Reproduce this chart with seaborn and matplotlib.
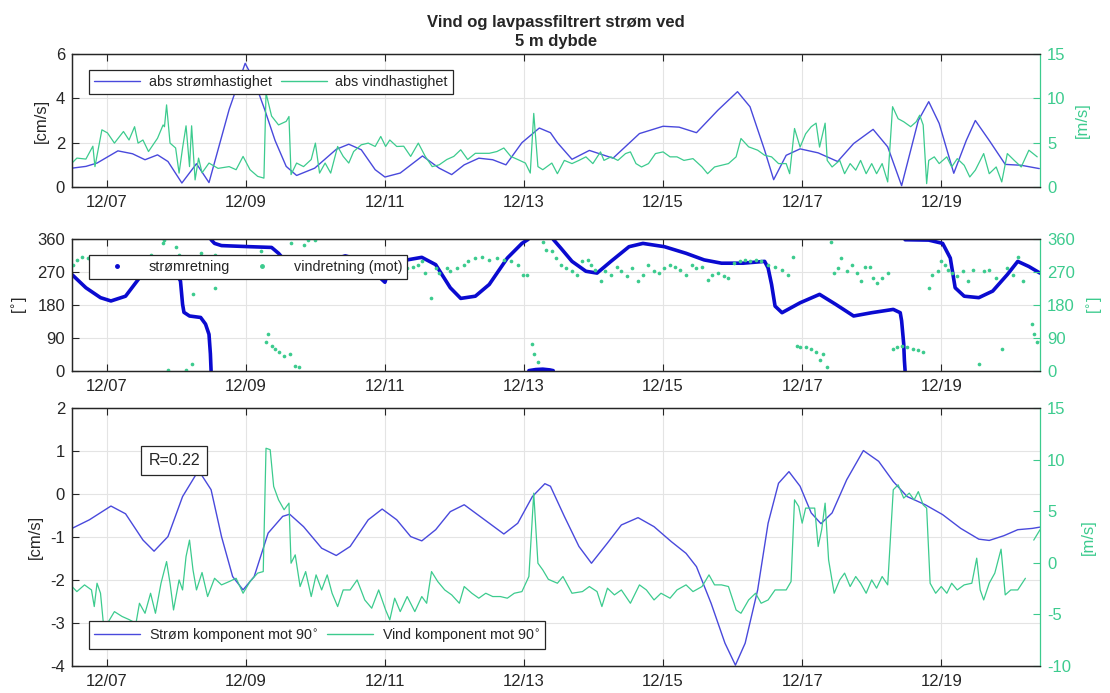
import numpy as np
import pandas as pd
import matplotlib
matplotlib.use("Agg")
import matplotlib.pyplot as plt
import matplotlib.dates as mdates
from matplotlib.lines import Line2D
import seaborn as sns

# ---------------------------------------------------------------------------
# Data: time is given as day of December (fractional), values as read off the
# instrument record.
# ---------------------------------------------------------------------------
TITLE = "Vind og lavpassfiltrert strøm ved\n5 m dybde"
TICK_DAYS = [7, 9, 11, 13, 15, 17, 19]
X_START, X_END = 6.5, 20.42

# abs current speed [cm/s]
cur_speed = [
    (6.50, 0.85), (6.70, 0.93), (6.86, 1.08), (7.16, 1.63), (7.37, 1.50),
    (7.55, 1.23), (7.73, 1.45), (7.88, 1.15), (8.08, 0.18), (8.29, 1.05),
    (8.47, 0.20), (8.76, 3.50), (8.99, 5.58), (9.12, 4.80), (9.27, 3.50),
    (9.42, 2.10), (9.58, 0.93), (9.73, 0.52), (9.99, 0.85), (10.30, 1.70),
    (10.48, 1.93), (10.66, 1.68), (10.86, 0.78), (11.00, 0.45), (11.22, 0.63),
    (11.54, 1.40), (11.78, 0.85), (11.96, 0.56), (12.14, 1.00), (12.35, 1.30),
    (12.55, 1.23), (12.74, 1.00), (12.97, 2.00), (13.22, 2.66), (13.38, 2.45),
    (13.48, 2.00), (13.69, 1.25), (13.94, 1.65), (14.28, 1.30), (14.66, 2.41),
    (15.00, 2.74), (15.23, 2.70), (15.48, 2.45), (15.79, 3.47), (16.07, 4.30),
    (16.25, 3.62), (16.46, 1.66), (16.59, 0.33), (16.77, 1.43), (16.97, 1.72),
    (17.23, 1.54), (17.51, 1.15), (17.74, 1.96), (18.02, 2.60), (18.23, 1.81),
    (18.43, 0.06), (18.67, 3.00), (18.82, 3.85), (18.97, 2.87), (19.18, 0.62),
    (19.36, 2.10), (19.49, 3.00), (19.69, 2.10), (19.92, 1.02), (20.15, 0.98),
    (20.41, 0.83),
]

# abs wind speed [m/s]
wind_speed = [
    (6.50, 2.7), (6.57, 3.26), (6.70, 3.15), (6.80, 4.6), (6.83, 2.3),
    (6.93, 6.45), (7.01, 6.1), (7.11, 4.95), (7.24, 6.26), (7.32, 5.3),
    (7.40, 6.8), (7.45, 4.95), (7.52, 5.3), (7.60, 4.0), (7.73, 5.5),
    (7.81, 7.0), (7.83, 6.8), (7.86, 9.26), (7.91, 4.95), (7.99, 4.4),
    (8.04, 1.57), (8.09, 4.4), (8.14, 6.9), (8.19, 2.3), (8.22, 6.9),
    (8.27, 0.8), (8.32, 3.26), (8.37, 1.6), (8.47, 2.7), (8.60, 2.1),
    (8.76, 2.3), (8.86, 1.95), (8.96, 3.45), (9.06, 1.95), (9.17, 1.2),
    (9.26, 1.0), (9.29, 10.6), (9.37, 8.0), (9.47, 7.0), (9.58, 7.4),
    (9.62, 7.95), (9.65, 1.4), (9.73, 2.7), (9.83, 2.3), (9.94, 3.1),
    (10.00, 4.95), (10.06, 1.57), (10.14, 2.7), (10.22, 1.57), (10.32, 4.57),
    (10.40, 3.45), (10.48, 2.7), (10.55, 4.0), (10.66, 4.76), (10.76, 4.95),
    (10.86, 4.57), (10.94, 5.7), (11.01, 4.57), (11.07, 5.3), (11.17, 4.57),
    (11.27, 4.6), (11.37, 3.45), (11.48, 4.95), (11.58, 3.45), (11.68, 2.3),
    (11.78, 2.5), (11.89, 3.1), (11.99, 3.45), (12.09, 4.2), (12.19, 3.1),
    (12.30, 3.8), (12.40, 3.8), (12.50, 3.8), (12.61, 4.0), (12.71, 4.4),
    (12.81, 3.45), (12.91, 3.1), (13.02, 2.7), (13.09, 1.57), (13.14, 8.3),
    (13.20, 2.3), (13.27, 1.95), (13.40, 2.7), (13.48, 1.5), (13.58, 3.0),
    (13.69, 2.64), (13.79, 3.0), (13.89, 3.4), (13.99, 2.64), (14.10, 3.96),
    (14.15, 3.0), (14.25, 3.4), (14.35, 3.0), (14.46, 3.77), (14.53, 3.96),
    (14.61, 2.64), (14.69, 2.26), (14.79, 2.64), (14.89, 3.77), (15.00, 3.96),
    (15.10, 3.4), (15.20, 3.4), (15.30, 3.0), (15.43, 3.2), (15.56, 2.26),
    (15.64, 1.5), (15.74, 2.26), (15.84, 2.45), (15.94, 2.64), (16.05, 3.4),
    (16.12, 5.47), (16.23, 4.53), (16.36, 4.15), (16.46, 3.58), (16.56, 3.4),
    (16.66, 2.64), (16.77, 2.64), (16.82, 1.5), (16.89, 6.6), (16.97, 4.5),
    (17.05, 6.0), (17.13, 6.8), (17.20, 7.2), (17.25, 4.5), (17.33, 7.2),
    (17.36, 3.0), (17.43, 2.26), (17.54, 3.0), (17.61, 1.5), (17.69, 2.64),
    (17.77, 1.9), (17.84, 3.0), (17.92, 1.5), (18.00, 2.64), (18.07, 1.5),
    (18.15, 2.64), (18.23, 0.57), (18.30, 9.06), (18.38, 7.7), (18.46, 7.36),
    (18.56, 6.8), (18.64, 7.36), (18.69, 8.1), (18.74, 7.0), (18.79, 0.38),
    (18.82, 3.0), (18.90, 3.4), (18.97, 2.64), (19.08, 3.4), (19.15, 2.26),
    (19.23, 3.2), (19.33, 2.45), (19.41, 1.13), (19.49, 1.9), (19.61, 3.77),
    (19.69, 1.5), (19.79, 2.26), (19.87, 0.57), (19.95, 3.77), (20.05, 3.0),
    (20.15, 2.26), (20.26, 4.15), (20.38, 3.4),
]

# current direction [deg]
cur_dir = [
    (6.50, 263), (6.70, 227), (6.91, 200), (7.06, 191), (7.27, 204),
    (7.47, 254), (7.60, 290), (7.75, 305), (7.90, 295), (8.00, 268),
    (8.06, 245), (8.09, 182), (8.11, 160), (8.19, 150), (8.35, 146),
    (8.42, 128), (8.47, 100), (8.49, 47), (8.50, 1),
    (8.50, 358), (8.55, 348), (8.65, 342), (9.06, 339), (9.37, 337),
    (9.47, 321), (9.53, 308), (9.70, 292), (10.00, 286), (10.20, 300),
    (10.43, 314), (10.60, 305), (10.85, 268), (11.00, 242), (11.07, 285),
    (11.32, 303), (11.53, 310), (11.73, 290), (11.94, 227), (12.09, 198),
    (12.30, 204), (12.50, 236), (12.76, 308), (12.97, 348), (13.06, 359),
    (13.07, 1), (13.17, 4), (13.27, 5), (13.37, 3), (13.42, 1),
    (13.42, 359), (13.53, 335), (13.69, 299), (13.89, 272), (14.05, 267),
    (14.25, 299), (14.51, 339), (14.71, 348), (15.02, 339), (15.33, 321),
    (15.59, 303), (15.84, 294), (16.15, 294), (16.46, 299), (16.51, 281),
    (16.56, 236), (16.61, 177), (16.71, 159), (16.97, 186), (17.25, 209),
    (17.48, 182), (17.74, 150), (18.00, 159), (18.31, 168), (18.41, 159),
    (18.43, 137), (18.46, 74), (18.47, 29), (18.48, 1),
    (18.48, 358), (18.82, 357), (19.02, 348), (19.13, 308), (19.20, 227),
    (19.33, 204), (19.54, 200), (19.74, 218), (19.95, 263), (20.10, 299),
    (20.26, 285), (20.42, 267),
]

# wind direction (towards) [deg]
wind_dir = [
    (6.52, 290), (6.57, 303), (6.65, 312), (6.73, 308), (7.63, 317),
    (7.81, 348), (7.83, 357), (7.99, 339), (8.04, 317), (8.35, 321),
    (8.55, 317), (9.22, 326), (9.65, 348), (9.83, 343), (9.89, 357),
    (9.99, 358), (8.24, 209), (8.55, 227), (7.88, 2), (8.14, 4),
    (8.22, 20), (9.29, 78), (9.32, 101), (9.37, 69), (9.42, 60),
    (9.47, 51), (9.55, 42), (9.63, 47), (9.71, 15), (9.76, 11),
    (11.32, 281), (11.40, 285), (11.48, 290), (11.53, 299), (11.58, 267),
    (11.66, 200), (11.73, 281), (11.78, 267), (11.89, 281), (11.94, 272),
    (12.04, 281), (12.14, 290), (12.19, 299), (12.30, 308), (12.40, 312),
    (12.50, 303), (12.61, 308), (12.71, 303), (12.81, 299), (12.91, 290),
    (12.99, 263), (13.04, 263), (13.12, 74), (13.14, 47), (13.20, 24),
    (13.27, 353), (13.32, 330), (13.40, 326), (13.46, 308), (13.53, 290),
    (13.61, 281), (13.69, 272), (13.76, 263), (13.84, 299), (13.92, 303),
    (13.97, 290), (14.02, 276), (14.10, 245), (14.17, 272), (14.25, 263),
    (14.33, 285), (14.40, 272), (14.48, 258), (14.56, 281), (14.64, 245),
    (14.71, 263), (14.79, 290), (14.87, 272), (14.94, 267), (15.02, 281),
    (15.10, 290), (15.17, 285), (15.25, 276), (15.33, 263), (15.41, 290),
    (15.48, 281), (15.56, 285), (15.64, 249), (15.71, 263), (15.79, 267),
    (15.87, 258), (15.94, 254), (16.02, 294), (16.10, 299), (16.18, 303),
    (16.25, 299), (16.33, 303), (16.41, 299), (16.51, 290), (16.61, 285),
    (16.71, 276), (16.79, 263), (16.87, 312), (16.92, 69), (16.97, 65),
    (17.05, 65), (17.13, 60), (17.20, 51), (17.25, 29), (17.30, 47),
    (17.36, 11), (17.41, 353), (17.46, 267), (17.51, 281), (17.56, 308),
    (17.64, 272), (17.72, 290), (17.79, 267), (17.84, 245), (17.90, 285),
    (17.97, 285), (18.02, 254), (18.07, 240), (18.15, 254), (18.23, 267),
    (18.31, 60), (18.36, 65), (18.43, 69), (18.51, 65), (18.59, 60),
    (18.67, 56), (18.74, 51), (18.82, 227), (18.87, 263), (18.95, 272),
    (19.00, 299), (19.05, 290), (19.10, 276), (19.15, 267), (19.23, 258),
    (19.31, 272), (19.38, 245), (19.46, 276), (19.54, 20), (19.61, 272),
    (19.69, 276), (19.79, 254), (19.87, 60), (19.95, 281), (20.03, 263),
    (20.10, 312), (20.18, 245), (20.31, 128), (20.33, 101), (20.38, 78),
    (20.44, 83),
]

# current component towards 90 deg [cm/s]
cur_comp = [
    (6.50, -0.80), (6.75, -0.60), (7.06, -0.28), (7.27, -0.46), (7.52, -1.07),
    (7.68, -1.33), (7.88, -0.99), (8.09, -0.06), (8.32, 0.55), (8.50, 0.10),
    (8.65, -0.99), (8.81, -1.92), (8.96, -2.23), (9.12, -1.92), (9.32, -0.91),
    (9.53, -0.52), (9.63, -0.47), (9.83, -0.76), (10.09, -1.26), (10.30, -1.43),
    (10.50, -1.22), (10.76, -0.60), (10.96, -0.35), (11.17, -0.60), (11.37, -0.99),
    (11.53, -1.09), (11.73, -0.83), (11.94, -0.41), (12.14, -0.25), (12.40, -0.56),
    (12.71, -0.93), (12.91, -0.68), (13.12, -0.06), (13.30, 0.24), (13.38, 0.18),
    (13.58, -0.52), (13.79, -1.22), (13.97, -1.61), (14.20, -1.14), (14.40, -0.72),
    (14.64, -0.55), (14.87, -0.76), (15.12, -1.11), (15.33, -1.38), (15.48, -1.69),
    (15.69, -2.54), (15.89, -3.47), (16.04, -3.98), (16.18, -3.47), (16.36, -2.23),
    (16.51, -0.68), (16.66, 0.25), (16.81, 0.52), (16.97, 0.18), (17.13, -0.44),
    (17.27, -0.69), (17.43, -0.44), (17.64, 0.33), (17.88, 1.01), (18.10, 0.76),
    (18.31, 0.29), (18.51, -0.06), (18.77, -0.25), (19.02, -0.48), (19.28, -0.80),
    (19.54, -1.05), (19.69, -1.08), (19.90, -0.97), (20.10, -0.83), (20.31, -0.80),
    (20.42, -0.77),
]

# wind component towards 90 deg [m/s]
wind_comp = [
    (6.50, -2.30), (6.57, -2.79), (6.68, -2.14), (6.78, -2.63), (6.82, -4.24),
    (6.86, -1.98), (6.91, -2.95), (6.96, -6.50), (7.01, -5.86), (7.11, -4.73),
    (7.22, -5.20), (7.32, -5.50), (7.42, -5.86), (7.47, -3.92), (7.55, -4.89),
    (7.63, -2.95), (7.70, -4.89), (7.78, -1.98), (7.86, 0.12), (7.91, -1.98),
    (7.96, -4.57), (8.04, -1.66), (8.09, -2.63), (8.14, 0.61), (8.19, 2.20),
    (8.24, -0.69), (8.29, -2.63), (8.37, -0.94), (8.45, -3.27), (8.55, -1.50),
    (8.65, -2.14), (8.76, -1.82), (8.86, -1.50), (8.96, -2.95), (9.06, -1.82),
    (9.17, -1.00), (9.25, -0.85), (9.29, 11.10), (9.35, 10.96), (9.40, 7.40),
    (9.47, 6.10), (9.55, 5.14), (9.62, 5.78), (9.65, -0.04), (9.71, 0.77),
    (9.78, -2.30), (9.86, -0.85), (9.94, -3.27), (10.01, -1.17), (10.09, -2.63),
    (10.17, -1.17), (10.24, -2.95), (10.32, -4.24), (10.40, -2.63), (10.50, -2.63),
    (10.60, -1.66), (10.71, -3.60), (10.81, -4.40), (10.91, -2.63), (11.01, -4.57),
    (11.07, -5.53), (11.14, -3.43), (11.22, -4.73), (11.32, -3.27), (11.43, -4.73),
    (11.53, -3.27), (11.60, -3.92), (11.67, -0.85), (11.76, -1.82), (11.86, -2.63),
    (11.96, -3.11), (12.07, -3.92), (12.14, -2.30), (12.25, -2.95), (12.35, -3.43),
    (12.45, -2.95), (12.55, -3.27), (12.66, -3.27), (12.76, -3.43), (12.86, -2.95),
    (12.97, -2.79), (13.07, -1.33), (13.14, 6.75), (13.20, -0.04), (13.27, -0.69),
    (13.35, -1.60), (13.48, -1.98), (13.56, -1.33), (13.69, -2.95), (13.84, -2.79),
    (13.94, -2.30), (14.05, -2.79), (14.12, -4.24), (14.20, -2.46), (14.30, -3.11),
    (14.40, -2.63), (14.53, -3.92), (14.66, -2.14), (14.76, -2.63), (14.87, -3.60),
    (14.97, -2.95), (15.10, -3.43), (15.20, -2.63), (15.33, -2.14), (15.43, -2.79),
    (15.56, -2.30), (15.66, -1.17), (15.74, -2.14), (15.84, -2.14), (15.94, -2.30),
    (16.05, -4.57), (16.12, -4.89), (16.23, -3.60), (16.33, -2.95), (16.41, -3.92),
    (16.51, -3.60), (16.61, -2.63), (16.77, -2.63), (16.84, -1.82), (16.89, 6.10),
    (16.95, 5.46), (17.00, 3.84), (17.05, 5.30), (17.18, 5.30), (17.23, 1.58),
    (17.28, 3.20), (17.33, 5.78), (17.38, 0.28), (17.46, -2.95), (17.54, -1.66),
    (17.61, -1.00), (17.69, -2.30), (17.77, -1.33), (17.84, -1.98), (17.92, -2.95),
    (18.00, -1.66), (18.07, -2.46), (18.15, -1.33), (18.23, -2.14), (18.31, 7.08),
    (18.38, 7.56), (18.46, 6.27), (18.54, 6.75), (18.61, 6.10), (18.67, 6.90),
    (18.74, 5.62), (18.79, 5.30), (18.84, -1.98), (18.92, -2.95), (19.00, -2.30),
    (19.08, -2.95), (19.15, -1.98), (19.23, -2.63), (19.33, -2.14), (19.44, -1.98),
    (19.51, 0.45), (19.56, -2.63), (19.61, -3.60), (19.69, -1.98), (19.77, -1.00),
    (19.86, 1.32), (19.92, -3.11), (20.00, -2.63), (20.10, -2.63), (20.21, -1.50),
]
wind_comp_tail = [(20.33, 2.2), (20.42, 3.2)]

R_TEXT = "R=0.22"

# ---------------------------------------------------------------------------
# Styling
# ---------------------------------------------------------------------------
BLUE = "#4949dc"
DOT_BLUE = "#0a0ad0"
GREEN = "#3ccb8e"
AX_COL = "#262626"
GRID_COL = "#e4e4e4"
BASE = pd.Timestamp("2021-12-01")
TICK_FS = 12

sns.set_theme(style="white")
plt.rcParams["font.family"] = ["Liberation Sans", "DejaVu Sans"]
plt.rcParams["mathtext.fontset"] = "dejavusans"
plt.rcParams["axes.unicode_minus"] = False


def to_time(days):
    return BASE + pd.to_timedelta(np.asarray(days, dtype=float) - 1.0, unit="D")


def frame(pairs, seg_on_wrap=False):
    d = np.array([p[0] for p in pairs], dtype=float)
    v = np.array([p[1] for p in pairs], dtype=float)
    seg = np.zeros(len(v), dtype=int)
    if seg_on_wrap:
        jumps = np.abs(np.diff(v)) > 180
        seg[1:] = np.cumsum(jumps)
    return pd.DataFrame({"time": to_time(d), "value": v, "seg": seg})


def finish(ax, ax2, ylim, yticks, ylim2, yticks2, ylabel, ylabel2):
    ax.set_xlim(to_time([X_START, X_END]))
    ax.set_xticks(to_time(TICK_DAYS))
    ax.xaxis.set_major_formatter(mdates.DateFormatter("%m/%d"))
    ax.set_ylim(*ylim)
    ax.set_yticks(yticks)
    ax2.set_ylim(*ylim2)
    ax2.set_yticks(yticks2)
    ax.grid(True, color=GRID_COL, lw=0.8)
    ax.set_axisbelow(True)
    ax.set_xlabel("")
    ax.set_ylabel(ylabel, color=AX_COL, fontsize=TICK_FS, labelpad=5)
    ax2.set_ylabel(ylabel2, color=GREEN, fontsize=TICK_FS, labelpad=7)
    ax.tick_params(axis="x", direction="in", length=5, top=True, bottom=True,
                   colors=AX_COL, labelsize=TICK_FS, pad=6, width=0.8)
    ax.tick_params(axis="y", direction="in", length=5, left=True, right=False,
                   colors=AX_COL, labelsize=TICK_FS, pad=5, width=0.8)
    ax2.tick_params(axis="y", direction="in", length=5, right=True,
                    colors=GREEN, labelsize=TICK_FS, pad=5, width=0.8)
    for s in ["left", "top", "bottom"]:
        ax.spines[s].set_color(AX_COL)
        ax.spines[s].set_linewidth(0.9)
        ax2.spines[s].set_color(AX_COL)
        ax2.spines[s].set_linewidth(0.9)
    ax.spines["right"].set_visible(False)
    ax2.spines["right"].set_color(GREEN)
    ax2.spines["right"].set_linewidth(0.9)


def add_legend(ax, handles, labels, anchor):
    leg = ax.legend(handles, labels, loc="upper left", bbox_to_anchor=anchor,
                    ncol=2, fontsize=10.4, frameon=True, fancybox=False,
                    framealpha=1, edgecolor=AX_COL, borderaxespad=0,
                    handlelength=3.2, handletextpad=0.6, columnspacing=0.6,
                    borderpad=0.35)
    leg.get_frame().set_linewidth(0.9)
    leg.set_zorder(10)
    return leg


fig = plt.figure(figsize=(11.1, 6.93), dpi=100)
L, W = 72 / 1110, 968 / 1110
ax_a = fig.add_axes([L, 1 - 187 / 693, W, 133 / 693])
ax_b = fig.add_axes([L, 1 - 371 / 693, W, 132 / 693])
ax_c = fig.add_axes([L, 1 - 666 / 693, W, 258 / 693])

# --- Panel 1: absolute speeds ---------------------------------------------
ax_a2 = ax_a.twinx()
sns.lineplot(data=frame(cur_speed), x="time", y="value", ax=ax_a,
             color=BLUE, linewidth=1.0, legend=False)
sns.lineplot(data=frame(wind_speed), x="time", y="value", ax=ax_a2,
             color=GREEN, linewidth=0.9, legend=False)
finish(ax_a, ax_a2, (0, 6), [0, 2, 4, 6], (0, 15), [0, 5, 10, 15],
       "[cm/s]", "[m/s]")
add_legend(ax_a2,
           [Line2D([], [], color=BLUE, lw=1.0), Line2D([], [], color=GREEN, lw=1.0)],
           ["abs strømhastighet", "abs vindhastighet"], (0.0175, 0.88))

# --- Panel 2: directions ---------------------------------------------------
ax_b2 = ax_b.twinx()
sns.lineplot(data=frame(cur_dir, seg_on_wrap=True), x="time", y="value",
             units="seg", estimator=None, ax=ax_b, color=DOT_BLUE,
             linewidth=2.6, legend=False)
sns.scatterplot(data=frame(wind_dir), x="time", y="value", ax=ax_b2,
                color=GREEN, s=7, linewidth=0, legend=False)
finish(ax_b, ax_b2, (0, 360), [0, 90, 180, 270, 360], (0, 360),
       [0, 90, 180, 270, 360], "[$^{\\circ}$]", "[$^{\\circ}$]")
add_legend(ax_b2,
           [Line2D([], [], ls="none", marker=".", color=DOT_BLUE, markersize=5),
            Line2D([], [], ls="none", marker=".", color=GREEN, markersize=5)],
           ["strømretning", "vindretning (mot)"], (0.0175, 0.88))

# --- Panel 3: components towards 90 deg ------------------------------------
ax_c2 = ax_c.twinx()
sns.lineplot(data=frame(cur_comp), x="time", y="value", ax=ax_c,
             color=BLUE, linewidth=1.0, legend=False)
sns.lineplot(data=frame(wind_comp), x="time", y="value", ax=ax_c2,
             color=GREEN, linewidth=0.9, legend=False)
sns.lineplot(data=frame(wind_comp_tail), x="time", y="value", ax=ax_c2,
             color=GREEN, linewidth=0.9, legend=False)
finish(ax_c, ax_c2, (-4, 2), [-4, -3, -2, -1, 0, 1, 2], (-10, 15),
       [-10, -5, 0, 5, 10, 15], "[cm/s]", "[m/s]")
add_legend(ax_c2,
           [Line2D([], [], color=BLUE, lw=1.0), Line2D([], [], color=GREEN, lw=1.0)],
           ["Strøm komponent mot 90$^{\\circ}$", "Vind komponent mot 90$^{\\circ}$"],
           (0.0175, 0.175))
ax_c2.text(0.079, 0.797, R_TEXT, transform=ax_c2.transAxes, fontsize=11.5,
           ha="left", va="center", color=AX_COL, zorder=11,
           bbox=dict(boxstyle="square,pad=0.45", fc="white", ec=AX_COL, lw=0.9))

fig.text(0.501, 1 - 49 / 693, TITLE, ha="center", va="bottom",
         fontsize=12, fontweight="bold", color=AX_COL, linespacing=1.3)

fig.savefig("out.png", dpi=100)
